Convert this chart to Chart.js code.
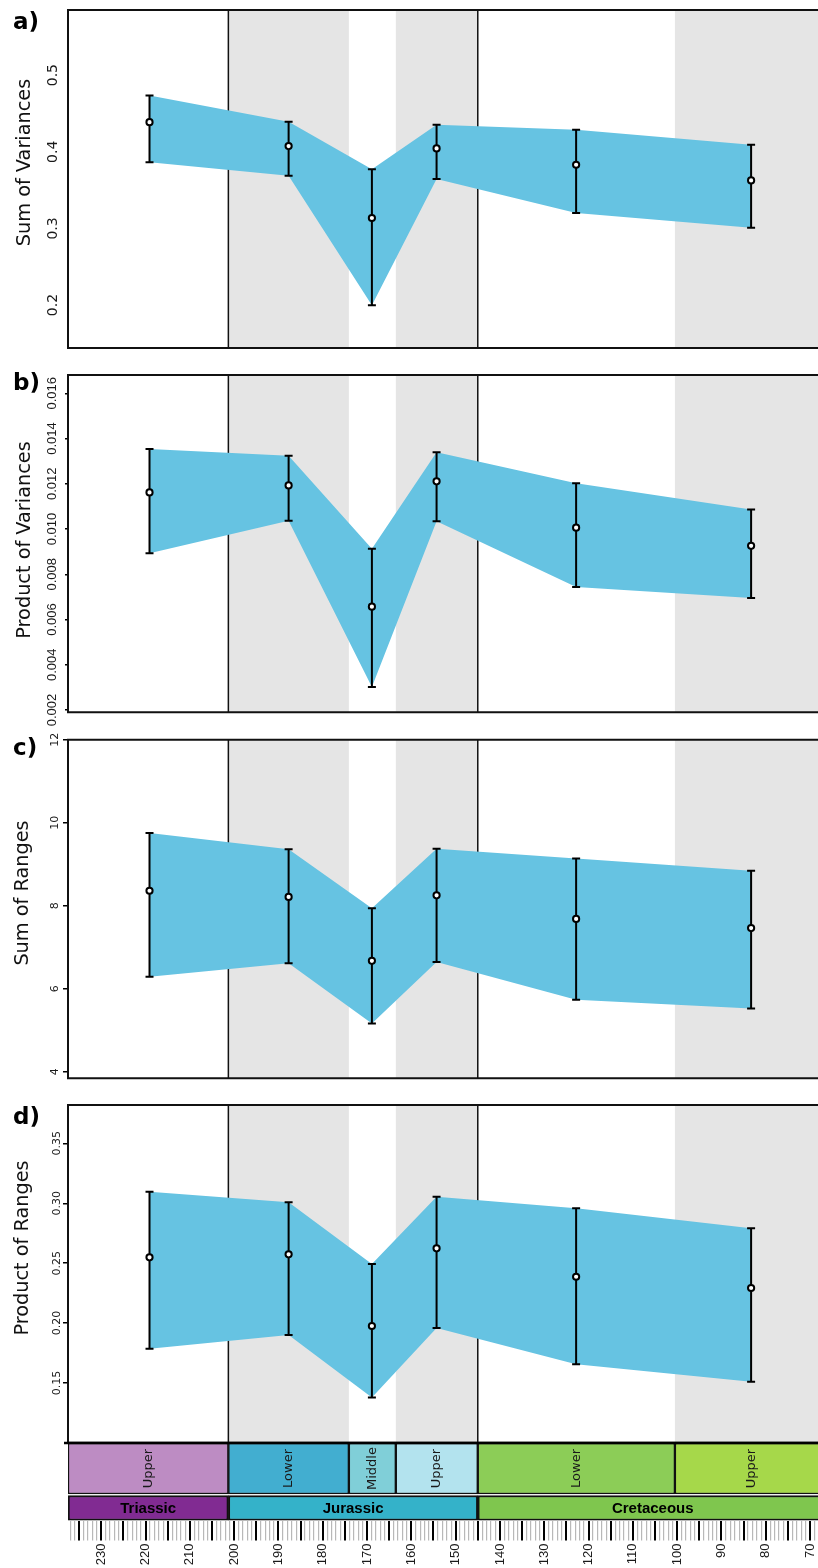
<!DOCTYPE html>
<html><head><meta charset="utf-8">
<script src="https://cdn.jsdelivr.net/npm/chart.js@4.4.1/dist/chart.umd.min.js"></script>
<style>
html,body{margin:0;padding:0;background:#fff;}
#wrap{position:relative;width:818px;height:1568px;overflow:hidden;background:#fff;}
canvas{position:absolute;left:0;}
</style></head><body><div id="wrap">
<canvas id="pa"></canvas><canvas id="pb"></canvas><canvas id="pc"></canvas><canvas id="pd"></canvas><canvas id="pt"></canvas>
</div>
<script>
// ---------- data ----------
const ages = [219.1, 187.7, 168.9, 154.3, 122.8, 83.3];

const sumVarUpper = [0.4735, 0.4391, 0.3771, 0.4352, 0.4287, 0.4091];
const sumVarMean  = [0.4387, 0.4074, 0.3136, 0.4044, 0.3831, 0.3627];
const sumVarLower = [0.3862, 0.3687, 0.1997, 0.3644, 0.3201, 0.3009];

const prodVarUpper = [0.01354, 0.01324, 0.00913, 0.01339, 0.01203, 0.01087];
const prodVarMean  = [0.01162, 0.01193, 0.00657, 0.01211, 0.01006, 0.00926];
const prodVarLower = [0.00893, 0.01037, 0.00302, 0.01035, 0.00744, 0.00695];

const sumRngUpper = [9.75, 9.36, 7.94, 9.37, 9.14, 8.84];
const sumRngMean  = [8.36, 8.21, 6.67, 8.25, 7.68, 7.46];
const sumRngLower = [6.29, 6.61, 5.16, 6.64, 5.73, 5.52];

const prodRngUpper = [0.3097, 0.3008, 0.2493, 0.3055, 0.2958, 0.2791];
const prodRngMean  = [0.2549, 0.2574, 0.1976, 0.2624, 0.2387, 0.2293];
const prodRngLower = [0.1786, 0.1900, 0.1380, 0.1959, 0.1656, 0.1511];

const yTicksA = [0.2, 0.3, 0.4, 0.5];
const yTicksB = [0.002, 0.004, 0.006, 0.008, 0.010, 0.012, 0.014, 0.016];
const yTicksC = [4, 6, 8, 10, 12];
const yTicksD = [0.15, 0.20, 0.25, 0.30, 0.35];
const xTickLabels = [230, 220, 210, 200, 190, 180, 170, 160, 150, 140, 130, 120, 110, 100, 90, 80, 70];

const stageNames  = ['Upper', 'Lower', 'Middle', 'Upper', 'Lower', 'Upper'];
const stageStart  = [237.5, 201.3, 174.1, 163.5, 145.0, 100.5];
const stageEnd    = [201.3, 174.1, 163.5, 145.0, 100.5, 66.0];
const stageColors = ['#BD8CC3', '#42AED0', '#80CFD8', '#B3E3EE', '#8CCD57', '#A6D84A'];

const periodNames  = ['Triassic', 'Jurassic', 'Cretaceous'];
const periodStart  = [237.5, 201.3, 145.0];
const periodEnd    = [201.3, 145.0, 66.0];
const periodColors = ['#812B92', '#34B2C9', '#7FC64E'];

const greyBandStart = [201.3, 163.5, 100.5];
const greyBandEnd   = [174.1, 145.0, 66.0];
const periodBoundaries = [201.3, 145.0];

// ---------- style ----------
const X_MIN = 68.2, X_MAX = 237.5;
const BAND = '#66C3E2';
const GREY = '#E5E5E5';
const DV = 'DejaVu Sans';

const panels = [
  {id:'pa', top:10, bottom:348, yMin:0.144, yMax:0.585, ticks:yTicksA, dec:1,
   font:{family:DV, size:14}, tl:0, pad:4, title:'Sum of Variances', letter:'a)',
   titleX:29.5, titleY:162.5, letterY:28.7, up:sumVarUpper, mean:sumVarMean, low:sumVarLower},
  {id:'pb', top:375, bottom:712.3, yMin:0.0019, yMax:0.01681, ticks:yTicksB, dec:3,
   font:{family:'"Liberation Sans Narrow", "Liberation Sans", sans-serif', size:13}, tl:3, pad:-3.3, title:'Product of Variances', letter:'b)',
   titleX:29.5, titleY:540, letterY:390.3, up:prodVarUpper, mean:prodVarMean, low:prodVarLower},
  {id:'pc', top:739.7, bottom:1078.3, yMin:3.84, yMax:12.0, ticks:yTicksC, dec:0,
   font:{family:DV, size:11}, tl:5, pad:1, title:'Sum of Ranges', letter:'c)',
   titleX:28, titleY:893, letterY:755.3, up:sumRngUpper, mean:sumRngMean, low:sumRngLower},
  {id:'pd', top:1105, bottom:1442.7, yMin:0.1002, yMax:0.382, ticks:yTicksD, dec:2,
   font:{family:DV, size:11}, tl:5, pad:-6.2, title:'Product of Ranges', letter:'d)',
   titleX:28, titleY:1248, letterY:1123.7, up:prodRngUpper, mean:prodRngMean, low:prodRngLower}
];

function rotText(ctx, text, x, y, font, color) {
  ctx.save();
  ctx.translate(x, y);
  ctx.rotate(-Math.PI / 2);
  ctx.font = font;
  ctx.fillStyle = color;
  ctx.textAlign = 'center';
  ctx.textBaseline = 'alphabetic';
  ctx.fillText(text, 0, 0);
  ctx.restore();
}

const panelDecor = {
  id: 'panelDecor',
  beforeDatasetsDraw(chart) {
    const {ctx, chartArea: a, scales: {x}} = chart;
    ctx.save();
    ctx.beginPath();
    ctx.rect(a.left, a.top, a.right - a.left, a.bottom - a.top);
    ctx.clip();
    ctx.fillStyle = GREY;
    greyBandStart.forEach((s, i) => {
      const x1 = x.getPixelForValue(s), x2 = x.getPixelForValue(greyBandEnd[i]);
      ctx.fillRect(Math.min(x1, x2), a.top, Math.abs(x2 - x1), a.bottom - a.top);
    });
    ctx.strokeStyle = '#111';
    ctx.lineWidth = 1.5;
    periodBoundaries.forEach(v => {
      const px = x.getPixelForValue(v);
      ctx.beginPath(); ctx.moveTo(px, a.top); ctx.lineTo(px, a.bottom); ctx.stroke();
    });
    ctx.restore();
  },
  beforeDatasetDraw(chart, args) {
    if (args.index !== 2) return;
    const {ctx, scales: {x, y}} = chart;
    const up = chart.data.datasets[0].data, low = chart.data.datasets[1].data;
    ctx.save();
    ctx.strokeStyle = '#000';
    ctx.lineWidth = 2;
    up.forEach((p, i) => {
      const px = x.getPixelForValue(p.x);
      const y1 = y.getPixelForValue(p.y), y2 = y.getPixelForValue(low[i].y);
      ctx.beginPath();
      ctx.moveTo(px, y1); ctx.lineTo(px, y2);
      ctx.moveTo(px - 4, y1); ctx.lineTo(px + 4, y1);
      ctx.moveTo(px - 4, y2); ctx.lineTo(px + 4, y2);
      ctx.stroke();
    });
    ctx.restore();
  },
  afterDraw(chart, args, opts) {
    const {ctx, chartArea: a} = chart;
    ctx.save();
    ctx.strokeStyle = '#111';
    ctx.lineWidth = 2;
    ctx.beginPath();
    ctx.moveTo(a.right + 5, a.top); ctx.lineTo(a.left, a.top); ctx.lineTo(a.left, a.bottom); ctx.lineTo(a.right + 5, a.bottom);
    ctx.stroke();
    ctx.restore();
    const off = opts.canvasTop;
    rotText(ctx, opts.title, opts.titleX, opts.titleY - off, '19.3px "DejaVu Sans"', '#111');
    ctx.save();
    ctx.font = 'bold 23px "DejaVu Sans"';
    ctx.fillStyle = '#000';
    ctx.textAlign = 'left';
    ctx.textBaseline = 'alphabetic';
    ctx.fillText(opts.letter, 13, opts.letterY - off);
    ctx.restore();
  }
};

panels.forEach(p => {
  const canvasTop = Math.round(p.top - 10);
  const h = Math.round(p.bottom - canvasTop + 14);
  const cv = document.getElementById(p.id);
  cv.style.top = canvasTop + 'px';
  cv.width = 818; cv.height = h;
  cv.style.width = '818px'; cv.style.height = h + 'px';
  const pts = arr => arr.map((v, i) => ({x: ages[i], y: v}));
  new Chart(cv, {
    type: 'line',
    data: {datasets: [
      {data: pts(p.up), borderWidth: 0, borderColor: 'rgba(0,0,0,0)', pointRadius: 0, pointHoverRadius: 0, fill: false, tension: 0, order: 3},
      {data: pts(p.low), borderWidth: 0, borderColor: 'rgba(0,0,0,0)', pointRadius: 0, pointHoverRadius: 0, fill: '-1', backgroundColor: BAND, tension: 0, order: 2},
      {data: pts(p.mean), showLine: false, pointRadius: 3.1, pointHoverRadius: 3.1, pointBackgroundColor: '#fff', pointBorderColor: '#000', pointBorderWidth: 2, order: 1}
    ]},
    options: {
      responsive: false, animation: false, devicePixelRatio: 1, events: [],
      layout: {autoPadding: false, padding: {top: p.top - canvasTop, bottom: canvasTop + h - p.bottom, left: 0, right: 0}},
      plugins: {
        legend: {display: false}, tooltip: {enabled: false},
        panelDecor: {canvasTop, title: p.title, letter: p.letter, titleX: p.titleX, titleY: p.titleY, letterY: p.letterY}
      },
      scales: {
        x: {type: 'linear', reverse: true, min: X_MIN, max: X_MAX, display: false},
        y: {
          type: 'linear', min: p.yMin, max: p.yMax,
          afterBuildTicks: s => { s.ticks = p.ticks.map(v => ({value: v})); },
          afterFit: s => { s.width = 68; s.paddingTop = 0; s.paddingBottom = 0; s.paddingLeft = 0; s.paddingRight = 0; },
          ticks: {minRotation: 90, maxRotation: 90, crossAlign: 'center', autoSkip: false, padding: p.pad,
                  font: p.font, color: '#1a1a1a', callback: v => Number(v).toFixed(p.dec)},
          grid: {display: p.tl > 0, drawOnChartArea: false, drawTicks: true, tickLength: p.tl, color: '#000', lineWidth: 1.5},
          border: {display: false}
        }
      }
    },
    plugins: [panelDecor]
  });
});

// ---------- timescale ----------
const tsTop = 1436, tsH = 132;
const cvT = document.getElementById('pt');
cvT.style.top = tsTop + 'px';
cvT.width = 818; cvT.height = tsH;
cvT.style.width = '818px'; cvT.style.height = tsH + 'px';

const tsLabels = {
  id: 'tsLabels',
  afterDatasetsDraw(chart) {
    const {ctx, scales: {x, y}, chartArea: a} = chart;
    stageNames.forEach((n, i) => {
      const cx = x.getPixelForValue((stageStart[i] + stageEnd[i]) / 2);
      const cy = y.getPixelForValue(25.5);
      ctx.save();
      ctx.translate(cx, cy);
      ctx.rotate(-Math.PI / 2);
      ctx.font = '13px "DejaVu Sans"';
      ctx.fillStyle = '#1a1a1a';
      ctx.textAlign = 'center';
      ctx.textBaseline = 'middle';
      ctx.fillText(n, 0, 0);
      ctx.restore();
    });
    periodNames.forEach((n, i) => {
      const cx = x.getPixelForValue((periodStart[i] + periodEnd[i]) / 2);
      const cy = y.getPixelForValue(65);
      ctx.save();
      ctx.font = 'bold 15px "Liberation Sans"';
      ctx.fillStyle = '#000';
      ctx.textAlign = 'center';
      ctx.textBaseline = 'middle';
      ctx.fillText(n, cx, cy + 1);
      ctx.restore();
    });
    ctx.save();
    ctx.strokeStyle = '#000';
    ctx.lineWidth = 2.5;
    ctx.beginPath();
    ctx.moveTo(64, a.top); ctx.lineTo(a.right + 5, a.top);
    ctx.stroke();
    ctx.restore();
  }
};

new Chart(cvT, {
  type: 'bar',
  data: {datasets: [
    {data: stageStart.map((s, i) => ({x: [s, stageEnd[i]], y: 25.5})), backgroundColor: stageColors,
     borderColor: '#111', borderWidth: 1.5, borderSkipped: false, barThickness: 51, grouped: false},
    {data: periodStart.map((s, i) => ({x: [s, periodEnd[i]], y: 65})), backgroundColor: periodColors,
     borderColor: '#111', borderWidth: 2, borderSkipped: false, barThickness: 25, grouped: false}
  ]},
  options: {
    indexAxis: 'y', responsive: false, animation: false, devicePixelRatio: 1, events: [],
    layout: {autoPadding: false, padding: {top: 7, left: 68, right: 0, bottom: 0}},
    plugins: {legend: {display: false}, tooltip: {enabled: false}},
    scales: {
      y: {type: 'linear', min: 0, max: 77.5, reverse: true, display: false, offset: false},
      x: {
        type: 'linear', reverse: true, min: X_MIN, max: X_MAX, position: 'bottom',
        afterFit: s => { s.height = 47.5; s.paddingLeft = 0; s.paddingRight = 0; s.paddingTop = 0; s.paddingBottom = 0; },
        ticks: {stepSize: 1, autoSkip: false, includeBounds: false, minRotation: 90, maxRotation: 90, padding: 3,
                font: {family: '"Liberation Sans", Arial, sans-serif', size: 13}, color: '#1a1a1a',
                callback: v => xTickLabels.includes(Math.round(v)) && Math.abs(v - Math.round(v)) < 1e-6 ? String(Math.round(v)) : ''},
        grid: {drawOnChartArea: false, drawTicks: true, tickLength: 20,
               color: c => (c.tick && Math.round(c.tick.value) % 5 === 0) ? '#000' : '#b8b8b8',
               lineWidth: c => (c.tick && Math.round(c.tick.value) % 5 === 0) ? 2 : 1.2},
        border: {display: false}
      }
    }
  },
  plugins: [tsLabels]
});
</script>
</body></html>
